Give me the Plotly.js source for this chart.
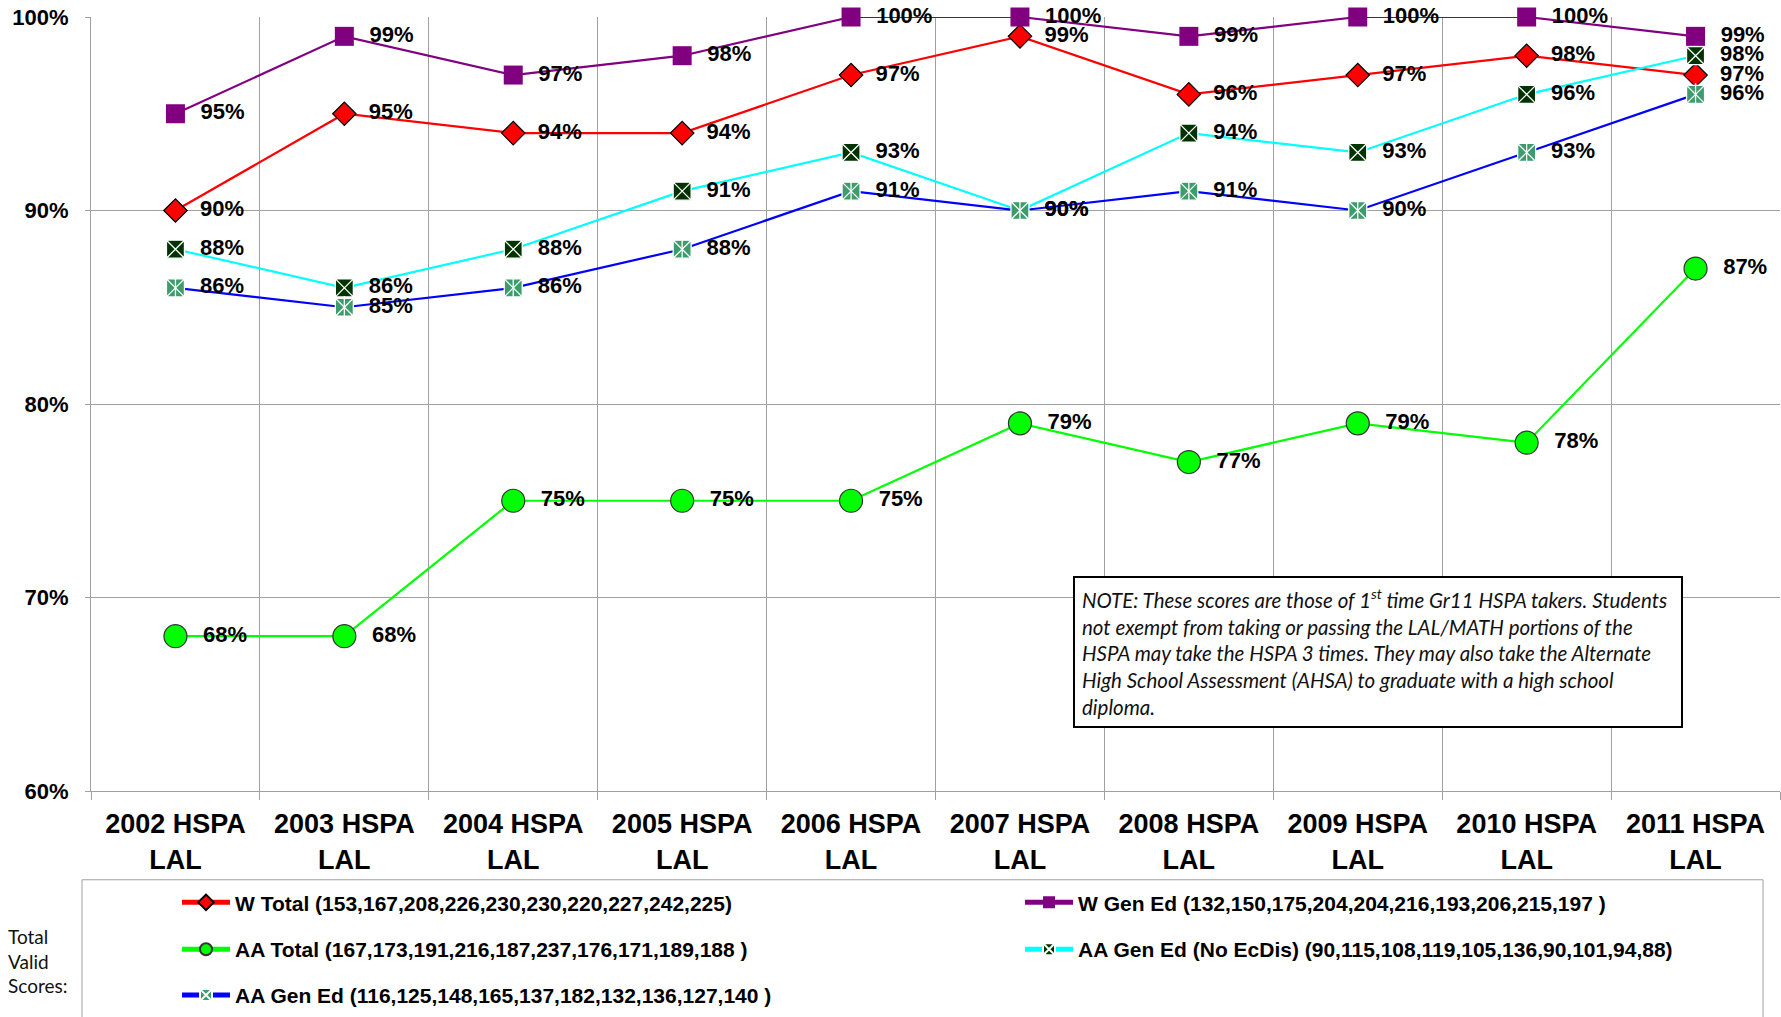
<!DOCTYPE html>
<html><head><meta charset="utf-8">
<script src="https://cdn.plot.ly/plotly-3.0.1.min.js"></script>
<style>html,body{margin:0;padding:0;background:#fff;} #chart{width:1781px;height:1017px;}</style>
</head><body><div id="chart"></div>
<script>
const categories = ['2002 HSPA<br>LAL','2003 HSPA<br>LAL','2004 HSPA<br>LAL','2005 HSPA<br>LAL','2006 HSPA<br>LAL',
                    '2007 HSPA<br>LAL','2008 HSPA<br>LAL','2009 HSPA<br>LAL','2010 HSPA<br>LAL','2011 HSPA<br>LAL'];
const wTotal         = [90, 95, 94, 94, 97, 99, 96, 97, 98, 97];
const wGenEd         = [95, 99, 97, 98, 100, 100, 99, 100, 100, 99];
const aaTotal        = [68, 68, 75, 75, 75, 79, 77, 79, 78, 87];
const aaGenEdNoEcDis = [88, 86, 88, 91, 93, 90, 94, 93, 96, 98];
const aaGenEd        = [86, 85, 86, 88, 91, 90, 91, 90, 93, 96];
const nameWTotal   = 'W Total (153,167,208,226,230,230,220,227,242,225)';
const nameWGenEd   = 'W Gen Ed (132,150,175,204,204,216,193,206,215,197 )';
const nameAATotal  = 'AA Total (167,173,191,216,187,237,176,171,189,188 )';
const nameAANoEc   = 'AA Gen Ed (No EcDis) (90,115,108,119,105,136,90,101,94,88)';
const nameAAGenEd  = 'AA Gen Ed (116,125,148,165,137,182,132,136,127,140 )';
const yTicks = [60, 70, 80, 90, 100];
const yTickText = ['60%', '70%', '80%', '90%', '100%'];

const bold = {family: 'Liberation Sans, Arial, sans-serif', color: '#000', weight: 'bold'};
const labelFont = Object.assign({size: 22}, bold);

function tr(y, name, lineColor, marker, legend) {
  return {x: categories, y: y, name: name, type: 'scatter', mode: 'lines+markers+text',
    line: {color: lineColor, width: 2.2}, marker: marker,
    text: y.map(v => '\u00a0\u00a0' + v + '%'),
    textposition: 'middle right', textfont: labelFont, cliponaxis: false,
    legend: legend, hoverinfo: 'x+y+name'};
}

const data = [
  tr(wTotal, nameWTotal, '#FF0000', {symbol: 'diamond', size: 18, color: '#FF0000', line: {color: '#000', width: 1.2}}, 'legend'),
  tr(wGenEd, nameWGenEd, '#800080', {symbol: 'square', size: 19, color: '#800080', line: {color: '#800080', width: 0}}, 'legend2'),
  tr(aaTotal, nameAATotal, '#00FF00', {symbol: 'circle', size: 23, color: '#00FF00', line: {color: '#333', width: 1.2}}, 'legend3'),
  tr(aaGenEdNoEcDis, nameAANoEc, '#00FFFF', {symbol: 'square-x', size: 18, color: '#003300', line: {color: '#FFFFFF', width: 1.3}}, 'legend4'),
  tr(aaGenEd, nameAAGenEd, '#0000FF', {symbol: 'square-x', size: 18, color: '#3D9C6C', line: {color: '#FFFFFF', width: 1.3}}, 'legend5'),
  {x: categories, y: aaGenEd, type: 'scatter', mode: 'markers', showlegend: false, hoverinfo: 'skip', cliponaxis: false,
   marker: {symbol: 'line-ns-open', size: 16, color: '#FFFFFF', line: {color: '#FFFFFF', width: 1.3}}}
];

const W = 1689, H = 776, L = 91, T = 17;
const px = v => (v - L) / W;
const py = v => (T + H - v) / H;

const legendCommon = {orientation: 'v', xanchor: 'left', yanchor: 'middle', bgcolor: 'rgba(0,0,0,0)',
  borderwidth: 0, font: Object.assign({size: 21}, bold), itemwidth: 48, itemsizing: 'constant'};
const col1 = 177, col2 = 1020, row1 = 905, row2 = 952, row3 = 998;

const layout = {
  width: 1781, height: 1017,
  margin: {l: 91, r: 1, t: 17, b: 224, pad: 0},
  paper_bgcolor: '#fff', plot_bgcolor: '#fff',
  showlegend: true,
  xaxis: {type: 'category', tickson: 'boundaries', showgrid: true, gridcolor: '#A0A0A0', gridwidth: 1,
    ticks: 'outside', ticklen: 8, tickcolor: '#A0A0A0', showline: true, linecolor: '#A0A0A0', linewidth: 1,
    tickfont: Object.assign({size: 27}, bold), range: [-0.5, 9.5], fixedrange: true, ticklabelstandoff: 9},
  yaxis: {range: [60, 100], tickvals: yTicks, ticktext: yTickText, showgrid: true, gridcolor: '#A0A0A0',
    ticks: 'outside', ticklen: 5, tickcolor: '#A0A0A0', showline: true, linecolor: '#A0A0A0', zeroline: false,
    tickfont: Object.assign({size: 22}, bold), ticklabelstandoff: 12, fixedrange: true},
  legend:  Object.assign({x: px(col1), y: py(row1)}, legendCommon),
  legend2: Object.assign({x: px(col2), y: py(row1)}, legendCommon),
  legend3: Object.assign({x: px(col1), y: py(row2)}, legendCommon),
  legend4: Object.assign({x: px(col2), y: py(row2)}, legendCommon),
  legend5: Object.assign({x: px(col1), y: py(row3)}, legendCommon),
  shapes: [
    {type: 'rect', xref: 'paper', yref: 'paper', x0: px(82), x1: px(1763), y0: py(882), y1: py(1040),
     line: {color: '#A0A0A0', width: 1}, fillcolor: 'rgba(0,0,0,0)', layer: 'below'}
  ],
  annotations: [
    {xref: 'paper', yref: 'paper', x: px(1073), y: py(577), xanchor: 'left', yanchor: 'top',
     showarrow: false, align: 'left', valign: 'middle', bgcolor: '#fff', bordercolor: '#000', borderwidth: 2,
     borderpad: 7, width: 592, height: 134,
     font: {family: 'Lato, Open Sans, sans-serif', size: 20.5, color: '#111', style: 'italic'},
     text: 'NOTE: These scores are those of 1<sup>st</sup> time Gr11 HSPA takers. Students<br>' +
           'not exempt from taking or passing the LAL/MATH portions of the<br>' +
           'HSPA may take the HSPA 3 times. They may also take the Alternate<br>' +
           'High School Assessment (AHSA) to graduate with a high school<br>diploma.'},
    {xref: 'paper', yref: 'paper', x: px(6), y: py(963), xanchor: 'left', yanchor: 'middle',
     showarrow: false, align: 'left', font: {family: 'Lato, Open Sans, sans-serif', size: 19, color: '#111'},
     text: 'Total<br>Valid<br>Scores:'}
  ]
};

Plotly.newPlot('chart', data, layout, {displayModeBar: false, staticPlot: true});
</script></body></html>
